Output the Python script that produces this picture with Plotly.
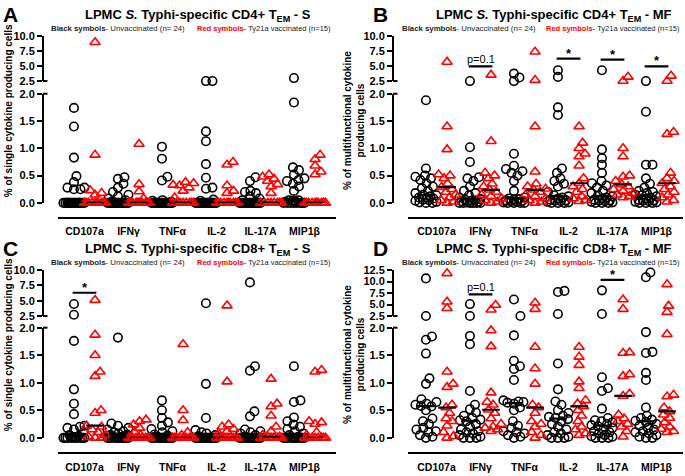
import numpy as np
import plotly.graph_objects as go

W, H = 685, 476
cytokines = ["CD107a", "IFNγ", "TNFα", "IL-2", "IL-17A", "MIP1β"]

# ---------------- data ----------------
# Panel A: CD4+ TEM single cytokine producers
A_unvacc = [
    [1.74, 1.40, 0.83, 0.49, 0.38, 0.28, 0.28, 0.25, 0.25, 0, 0, 0, 0, 0, 0, 0, 0, 0, 0, 0, 0, 0, 0, 0],
    [0.47, 0.44, 0.35, 0.28, 0.20, 0.15, 0.12, 0.08, 0.05, 0.03, 0, 0, 0, 0, 0, 0, 0, 0, 0, 0, 0, 0, 0, 0],
    [1.03, 0.81, 0.48, 0.41, 0.05, 0.04, 0.02, 0, 0, 0, 0, 0, 0, 0, 0, 0, 0, 0, 0, 0, 0, 0, 0, 0],
    [2.5, 2.5, 1.31, 1.13, 0.71, 0.46, 0.28, 0.26, 0.06, 0.04, 0, 0, 0, 0, 0, 0, 0, 0, 0, 0, 0, 0, 0, 0],
    [0.47, 0.40, 0.22, 0.20, 0.18, 0.12, 0.08, 0.05, 0, 0, 0, 0, 0, 0, 0, 0, 0, 0, 0, 0, 0, 0, 0, 0],
    [3.0, 1.84, 0.65, 0.60, 0.52, 0.45, 0.42, 0.40, 0.35, 0.30, 0.22, 0.05, 0.05, 0.04, 0.03, 0.02, 0, 0, 0, 0, 0, 0, 0, 0],
]
A_vacc = [
    [9.0, 0.88, 0.23, 0.18, 0.15, 0, 0, 0, 0, 0, 0, 0, 0, 0, 0],
    [1.08, 0.34, 0.21, 0.08, 0, 0, 0, 0, 0, 0, 0, 0, 0, 0, 0],
    [0.38, 0.36, 0.33, 0.32, 0.28, 0.22, 0.10, 0, 0, 0, 0, 0, 0, 0, 0],
    [0.75, 0.70, 0.32, 0.22, 0.18, 0, 0, 0, 0, 0, 0, 0, 0, 0, 0],
    [0.52, 0.48, 0.44, 0.40, 0.34, 0.30, 0.18, 0, 0, 0, 0, 0, 0, 0, 0],
    [0.88, 0.80, 0.68, 0.57, 0.52, 0, 0, 0, 0, 0, 0, 0, 0, 0, 0],
]

# Panel B: CD4+ TEM multifunctional
B_unvacc = [
    [1.88, 0.63, 0.50, 0.48, 0.45, 0.42, 0.36, 0.30, 0.27, 0.22, 0.18, 0.15, 0.14, 0.12, 0.10, 0.10, 0.08, 0.06, 0.05, 0.04, 0.02, 0.01, 0, 0],
    [2.5, 1.02, 0.75, 0.47, 0.45, 0.40, 0.30, 0.22, 0.18, 0.14, 0.10, 0.07, 0.06, 0.05, 0.04, 0.03, 0.02, 0.01, 0, 0, 0, 0, 0, 0],
    [3.75, 3.1, 2.5, 0.90, 0.68, 0.62, 0.58, 0.55, 0.50, 0.40, 0.22, 0.10, 0.08, 0.07, 0.06, 0.05, 0.04, 0.03, 0.02, 0.01, 0, 0, 0, 0],
    [4.3, 3.2, 1.75, 1.61, 0.63, 0.55, 0.45, 0.40, 0.35, 0.30, 0.20, 0.14, 0.12, 0.10, 0.08, 0.06, 0.05, 0.04, 0.03, 0.02, 0.01, 0, 0, 0],
    [4.3, 0.98, 0.82, 0.70, 0.55, 0.40, 0.36, 0.32, 0.28, 0.22, 0.18, 0.14, 0.12, 0.10, 0.08, 0.06, 0.05, 0.04, 0.03, 0.02, 0.01, 0, 0, 0],
    [2.5, 1.67, 0.70, 0.70, 0.45, 0.35, 0.28, 0.22, 0.20, 0.18, 0.15, 0.14, 0.12, 0.10, 0.08, 0.06, 0.05, 0.04, 0.03, 0.02, 0.01, 0, 0, 0],
]
B_vacc = [
    [5.7, 1.40, 0.98, 0.52, 0.50, 0.45, 0.35, 0.29, 0.25, 0.20, 0.15, 0.10, 0.05, 0.02, 0.0],
    [3.53, 1.13, 0.55, 0.50, 0.45, 0.35, 0.30, 0.24, 0.20, 0.15, 0.12, 0.08, 0.05, 0.02, 0.0],
    [7.4, 2.66, 1.40, 0.57, 0.35, 0.30, 0.26, 0.24, 0.20, 0.15, 0.12, 0.08, 0.05, 0.02, 0.0],
    [1.40, 1.10, 1.00, 0.90, 0.85, 0.68, 0.45, 0.36, 0.30, 0.25, 0.20, 0.12, 0.08, 0.05, 0.03],
    [3.2, 2.5, 1.00, 0.85, 0.50, 0.48, 0.40, 0.34, 0.30, 0.25, 0.22, 0.18, 0.15, 0.12, 0.10],
    [3.37, 2.5, 1.30, 1.26, 0.55, 0.45, 0.40, 0.36, 0.30, 0.25, 0.20, 0.15, 0.10, 0.05, 0.02],
]
B_sig_cytokine = ["IFNγ", "IL-2", "IL-17A", "MIP1β"]
B_sig_y = [4.95, 6.25, 6.1, 4.95]
B_sig_label = ["p=0.1", "*", "*", "*"]

# Panel C: CD8+ TEM single cytokine producers
C_unvacc = [
    [4.47, 2.7, 1.76, 0.88, 0.62, 0.43, 0.22, 0.20, 0.18, 0.15, 0.10, 0.05, 0.03, 0.02, 0.01, 0, 0, 0, 0, 0, 0, 0, 0, 0],
    [1.82, 0.26, 0.22, 0.18, 0.15, 0.12, 0.10, 0.08, 0.06, 0.05, 0.03, 0.02, 0, 0, 0, 0, 0, 0, 0, 0, 0, 0, 0, 0],
    [2.45, 0.68, 0.50, 0.36, 0.28, 0.22, 0.16, 0.12, 0.10, 0.06, 0.04, 0.02, 0, 0, 0, 0, 0, 0, 0, 0, 0, 0, 0, 0],
    [4.58, 0.98, 0.36, 0.14, 0.10, 0.08, 0.05, 0.03, 0, 0, 0, 0, 0, 0, 0, 0, 0, 0, 0, 0, 0, 0, 0, 0],
    [8.0, 2.45, 1.30, 1.22, 0.48, 0.39, 0.15, 0.12, 0.10, 0.08, 0.05, 0.02, 0, 0, 0, 0, 0, 0, 0, 0, 0, 0, 0, 0],
    [2.45, 1.30, 0.68, 0.65, 0.37, 0.30, 0.24, 0.20, 0.16, 0.12, 0.08, 0.05, 0.02, 0, 0, 0, 0, 0, 0, 0, 0, 0, 0, 0],
]
C_vacc = [
    [5.1, 1.87, 1.50, 1.20, 1.12, 0.50, 0.45, 0.22, 0.20, 0.15, 0.10, 0.05, 0.02, 0, 0],
    [0.33, 0.30, 0.24, 0.18, 0.10, 0.05, 0, 0, 0, 0, 0, 0, 0, 0, 0],
    [1.70, 0.50, 0.32, 0.10, 0.05, 0, 0, 0, 0, 0, 0, 0, 0, 0, 0],
    [4.2, 1.02, 0.24, 0.20, 0.16, 0.12, 0.08, 0, 0, 0, 0, 0, 0, 0, 0],
    [1.07, 0.62, 0.57, 0.40, 0.20, 0.12, 0.05, 0.02, 0.01, 0, 0, 0, 0, 0, 0],
    [1.23, 1.20, 0.30, 0.28, 0.25, 0.10, 0.05, 0, 0, 0, 0, 0, 0, 0, 0],
]
C_sig_cytokine = ["CD107a"]
C_sig_y = [6.3]
C_sig_label = ["*"]

# Panel D: CD8+ TEM multifunctional
D_unvacc = [
    [10.7, 2.5, 1.84, 1.78, 1.53, 1.08, 0.98, 0.70, 0.65, 0.62, 0.60, 0.58, 0.57, 0.50, 0.35, 0.30, 0.25, 0.18, 0.15, 0.12, 0.10, 0.05, 0.02, 0.0],
    [5.1, 2.5, 1.85, 1.70, 0.85, 0.60, 0.52, 0.46, 0.40, 0.36, 0.33, 0.32, 0.30, 0.25, 0.20, 0.15, 0.12, 0.10, 0.08, 0.05, 0.02, 0, 0, 0],
    [6.1, 2.5, 2.45, 1.86, 1.40, 1.30, 1.25, 1.05, 0.68, 0.66, 0.65, 0.64, 0.62, 0.55, 0.50, 0.30, 0.22, 0.18, 0.12, 0.10, 0.08, 0.05, 0.02, 0.0],
    [7.97, 7.75, 2.93, 1.35, 0.88, 0.66, 0.60, 0.50, 0.45, 0.40, 0.38, 0.36, 0.34, 0.30, 0.25, 0.20, 0.15, 0.10, 0.08, 0.05, 0.02, 0, 0, 0],
    [8.1, 2.93, 1.10, 0.90, 0.85, 0.53, 0.36, 0.32, 0.30, 0.28, 0.25, 0.23, 0.21, 0.18, 0.15, 0.12, 0.10, 0.08, 0.05, 0.03, 0.02, 0, 0, 0],
    [12.0, 10.95, 1.92, 1.56, 1.54, 1.18, 1.05, 0.55, 0.40, 0.36, 0.33, 0.31, 0.29, 0.25, 0.22, 0.18, 0.15, 0.12, 0.10, 0.08, 0.05, 0.02, 0, 0],
]
D_vacc = [
    [11.8, 5.6, 4.2, 1.20, 0.98, 0.92, 0.60, 0.55, 0.45, 0.35, 0.30, 0.22, 0.10, 0.03, 0.0],
    [4.9, 3.85, 1.95, 1.66, 0.82, 0.65, 0.60, 0.51, 0.45, 0.35, 0.25, 0.20, 0.18, 0.15, 0.12],
    [5.4, 4.0, 2.3, 1.65, 1.26, 0.98, 0.60, 0.55, 0.45, 0.30, 0.25, 0.20, 0.10, 0.05, 0.0],
    [1.65, 1.47, 1.32, 1.02, 0.90, 0.68, 0.62, 0.57, 0.50, 0.40, 0.30, 0.20, 0.15, 0.08, 0.05],
    [6.1, 4.0, 1.55, 1.54, 1.15, 1.12, 0.80, 0.76, 0.42, 0.35, 0.30, 0.25, 0.20, 0.12, 0.02],
    [9.4, 4.7, 3.35, 1.88, 0.78, 0.75, 0.55, 0.48, 0.42, 0.36, 0.28, 0.20, 0.16, 0.12, 0.10],
]
D_sig_cytokine = ["IFNγ", "IL-17A"]
D_sig_y = [7.2, 10.4]
D_sig_label = ["p=0.1", "*"]

lower_ticks = [0.0, 0.5, 1.0, 1.5, 2.0]
upper_ticks_10 = [2.5, 5.0, 7.5, 10.0]
upper_ticks_125 = [2.5, 5.0, 7.5, 10.0, 12.5]

# ---------------- layout geometry (pixels) ----------------
FONT = "Arial, Liberation Sans, sans-serif"
SPACING = 44.0          # px between cytokine categories
GROUP_OFF = 0.24        # black left / red right of category centre
COLS = [dict(yax=43, xdom=(58, 336), c0=84.5, letter_x=1, title_c=198, sub1=49, sub2=195, ytx=8),
        dict(yax=393, xdom=(408, 683), c0=436.5, letter_x=371, title_c=554, sub1=400, sub2=544, ytx=354)]
ROWS = [dict(y0=202, y2=90, yu0=77, yut=31, xline=217, top=0),
        dict(y0=443, y2=330, yu0=318, yut=271, xline=459, top=240)]

panels = [
    dict(letter="A", kind="CD4+", suffix="S", black=A_unvacc, red=A_vacc,
         sig=([], [], []), utop=10.0, uticks=upper_ticks_10, col=0, row=0,
         ytitle="% of single cytokine producing cells", ytc=108),
    dict(letter="B", kind="CD4+", suffix="MF", black=B_unvacc, red=B_vacc,
         sig=(B_sig_cytokine, B_sig_y, B_sig_label), utop=10.0, uticks=upper_ticks_10, col=1, row=0,
         ytitle="% of multifunctional cytokine<br>producing cells", ytc=118),
    dict(letter="C", kind="CD8+", suffix="S", black=C_unvacc, red=C_vacc,
         sig=(C_sig_cytokine, C_sig_y, C_sig_label), utop=10.0, uticks=upper_ticks_10, col=0, row=1,
         ytitle="% of single cytokine producing cells", ytc=108),
    dict(letter="D", kind="CD8+", suffix="MF", black=D_unvacc, red=D_vacc,
         sig=(D_sig_cytokine, D_sig_y, D_sig_label), utop=12.5, uticks=upper_ticks_125, col=1, row=1,
         ytitle="% of multifunctional cytokine<br>producing cells", ytc=118),
]

SPLIT = 2.1  # values above this sit on the upper (compressed) segment


def fx(px):
    return px / W


def fy(py):
    return 1 - py / H


def val_to_px(v, R, utop):
    if v <= SPLIT:
        return R["y0"] - v * (R["y0"] - R["y2"]) / 2.0
    return R["yu0"] - (v - 2.5) * (R["yu0"] - R["yut"]) / (utop - 2.5)


def swarm(ypx, d=6.5, maxw=10.5, step=0.5):
    ypx = np.asarray(ypx, float)
    cands = [0.0]
    k = step
    while k <= maxw + 1e-9:
        cands += [k, -k]
        k += step
    offs = np.zeros(len(ypx))
    px_, py_ = [], []
    for i in np.argsort(-ypx):
        y = ypx[i]
        best, bestd = 0.0, -1.0
        for c in cands:
            dmin = np.min(np.hypot(np.array(px_) - c, np.array(py_) - y)) if px_ else np.inf
            if dmin >= d:
                best = c
                break
            if dmin > bestd:
                bestd, best = dmin, c
        offs[i] = best
        px_.append(best)
        py_.append(y)
    return offs


fig = go.Figure()
layout = dict(width=W, height=H, margin=dict(l=0, r=0, t=0, b=0),
              paper_bgcolor="white", plot_bgcolor="white", showlegend=False,
              font=dict(family=FONT, color="black"))
annotations, shapes = [], []

for p, P in enumerate(panels):
    C, R = COLS[P["col"]], ROWS[P["row"]]
    xn = "x" if p == 0 else f"x{p + 1}"
    ylo = f"y{2 * p + 1}" if p > 0 else "y"
    yup = f"y{2 * p + 2}"
    xr = [(C["xdom"][0] - C["c0"]) / SPACING, (C["xdom"][1] - C["c0"]) / SPACING]

    layout["xaxis" if p == 0 else f"xaxis{p + 1}"] = dict(
        domain=[fx(C["xdom"][0]), fx(C["xdom"][1])], range=xr, anchor="free",
        position=fy(R["xline"]), showline=True, linewidth=2, linecolor="black",
        showgrid=False, zeroline=False, ticks="", tickvals=list(range(6)), ticktext=cytokines,
        ticklabelstandoff=4,
        tickfont=dict(size=10.5, family=FONT, weight="bold", color="black"), fixedrange=True)
    common_y = dict(anchor="free", position=fx(C["yax"]), showline=True, linewidth=2,
                    linecolor="black", showgrid=False, zeroline=False, ticks="outside",
                    ticklen=5, tickwidth=2, tickcolor="black",
                    tickfont=dict(size=11, family=FONT, weight="bold", color="black"))
    layout["yaxis" if p == 0 else f"yaxis{2 * p + 1}"] = dict(
        domain=[fy(R["y0"]), fy(R["y2"])], range=[0, 2.0], tickvals=lower_ticks,
        ticktext=[f"{t:.1f}" for t in lower_ticks], **common_y)
    layout[f"yaxis{2 * p + 2}"] = dict(
        domain=[fy(R["yu0"]), fy(R["yut"])], range=[2.5, P["utop"]], tickvals=P["uticks"],
        ticktext=[f"{t:.1f}" for t in P["uticks"]], **common_y)

    # axis break caps
    for yb in (R["yu0"], R["y2"]):
        shapes.append(dict(type="line", xref="paper", yref="paper", x0=fx(C["yax"]), x1=fx(C["yax"] + 4.5),
                           y0=fy(yb), y1=fy(yb), line=dict(color="black", width=2)))

    med_x, med_y = [], []
    for gi, (grp, sym, col, off) in enumerate([(P["black"], "circle-open", "black", -GROUP_OFF),
                                               (P["red"], "triangle-up-open", "#ff0000", GROUP_OFF)]):
        for ci, vals in enumerate(grp):
            vals = np.asarray(vals, float)
            ypx = np.array([val_to_px(v, R, P["utop"]) for v in vals])
            xo = swarm(ypx) / SPACING
            xs = ci + off + xo
            lo = vals <= SPLIT
            for mask, yref in ((lo, ylo), (~lo, yup)):
                if mask.any():
                    fig.add_trace(go.Scatter(
                        x=xs[mask], y=vals[mask], xaxis=xn, yaxis=yref, mode="markers",
                        cliponaxis=False, hoverinfo="skip",
                        marker=dict(symbol=sym, size=8.5 if gi == 0 else 9,
                                    color=col, line=dict(color=col, width=1.6))))
            m = float(np.median(vals))
            med_x += [ci + off - 0.2, ci + off + 0.2, None]
            med_y += [m, m, None]
    fig.add_trace(go.Scatter(x=med_x, y=med_y, xaxis=xn, yaxis=ylo, mode="lines",
                             cliponaxis=False, hoverinfo="skip",
                             line=dict(color="black", width=2.2)))

    # significance bars
    scx, sy, slab = P["sig"]
    for name, yv, lab in zip(scx, sy, slab):
        ci = cytokines.index(name)
        fig.add_trace(go.Scatter(x=[ci - 0.27, ci + 0.27], y=[yv, yv], xaxis=xn, yaxis=yup,
                                 mode="lines", cliponaxis=False, hoverinfo="skip",
                                 line=dict(color="black", width=2.2)))
        star = lab == "*"
        annotations.append(dict(x=ci, y=yv, xref=xn, yref=yup, text=lab, showarrow=False,
                                yanchor="bottom", yshift=-4 if star else -1,
                                font=dict(size=13 if star else 11, family=FONT, color="#000000",
                                          weight="bold" if star else "normal")))

    # texts
    top = R["top"]
    annotations.append(dict(x=fx(C["letter_x"]), y=fy(top + 9), xref="paper", yref="paper",
                            text=f"<b>{P['letter']}</b>", showarrow=False, xanchor="left",
                            yanchor="middle", font=dict(size=21, family=FONT, color="black")))
    annotations.append(dict(x=fx(C["title_c"]), y=fy(top + 9.5), xref="paper",
                            yref="paper", showarrow=False, xanchor="center", yanchor="middle",
                            text=f"<b>LPMC <i>S.</i> Typhi-specific {P['kind']} T<sub>EM</sub> - {P['suffix']}</b>",
                            font=dict(size=13, family=FONT, color="black")))
    annotations.append(dict(x=fx(C["sub1"]), y=fy(top + 23.5), xref="paper",
                            yref="paper", showarrow=False, xanchor="left", yanchor="middle",
                            text="<b>Black symbols</b>- Unvaccinated (n= 24)",
                            font=dict(size=7.8, family=FONT, color="#222")))
    annotations.append(dict(x=fx(C["sub2"]), y=fy(top + 23.5), xref="paper",
                            yref="paper", showarrow=False, xanchor="left", yanchor="middle",
                            text="<b><span style='color:#ff0000'>Red symbols-</span></b> Ty21a vaccinated (n=15)",
                            font=dict(size=7.5, family=FONT, color="#222")))
    annotations.append(dict(x=fx(C["ytx"]), y=fy(top + P["ytc"]),
                            xref="paper", yref="paper", showarrow=False, textangle=-90,
                            xanchor="center", yanchor="middle", text=f"<b>{P['ytitle']}</b>",
                            font=dict(size=10, family=FONT, color="black")))

layout["annotations"] = annotations
layout["shapes"] = shapes
fig.update_layout(**layout)
fig.write_html("out.html", config={"displayModeBar": False},
               post_script="document.body.style.margin='0px';document.body.style.padding='0px';")
